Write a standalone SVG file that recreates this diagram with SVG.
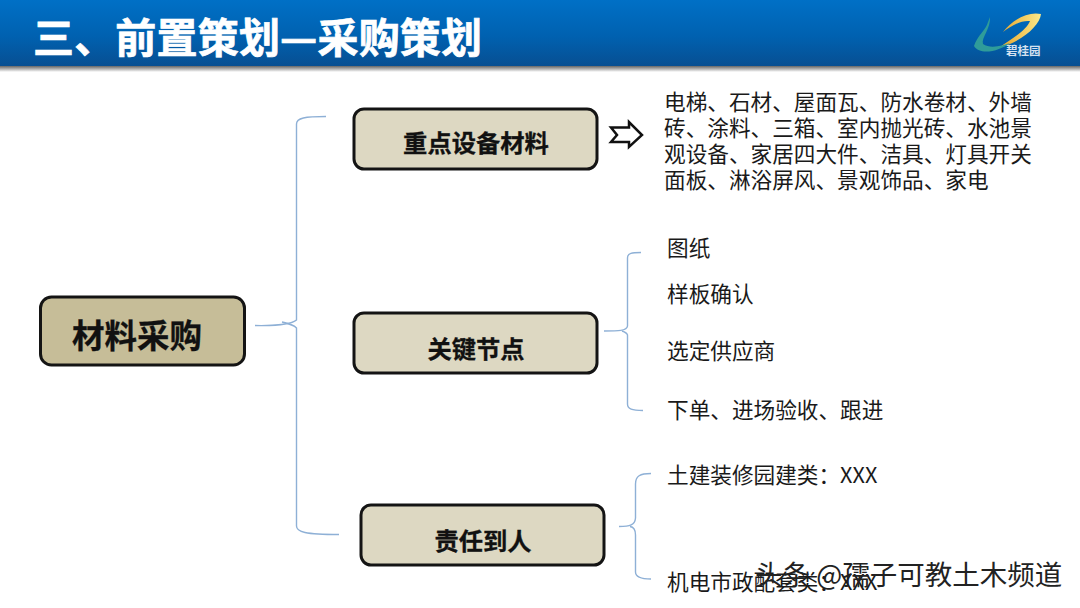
<svg xmlns="http://www.w3.org/2000/svg" width="1080" height="608" viewBox="0 0 1080 608">
<defs>
<linearGradient id="hdr" x1="0" y1="0" x2="0" y2="1"><stop offset="0" stop-color="#0070c6"/><stop offset="0.55" stop-color="#0061b0"/><stop offset="1" stop-color="#074f92"/></linearGradient>
<linearGradient id="shade" x1="0" y1="0" x2="0" y2="1"><stop offset="0" stop-color="#666"/><stop offset="1" stop-color="#fff"/></linearGradient>
<linearGradient id="gold" x1="0" y1="0" x2="1" y2="0"><stop offset="0" stop-color="#e8a52a"/><stop offset="1" stop-color="#fbe98a"/></linearGradient>
</defs>
<style>
text{font-family:"Noto Sans CJK SC","Liberation Sans",sans-serif}
.box{stroke:#141414;stroke-width:3}
.sub{fill:#ddd8c2}
.lbl{font-size:24.3px;font-weight:700;fill:#111;stroke:#111;stroke-width:.3;text-anchor:middle}
.t{font-size:21.650px;fill:#1a1a1a}
.br{fill:none;stroke:#8eb0d6;stroke-width:1.4}
</style>
<rect width="1080" height="608" fill="#fff"/>
<g id="header">
<rect width="1080" height="66" fill="url(#hdr)"/>
<rect y="66" width="1080" height="6" fill="url(#shade)"/>
<text x="33" y="53" font-size="41" font-weight="700" fill="#fff" stroke="#fff" stroke-width=".7" textLength="449" lengthAdjust="spacing">三、前置策划—采购策划</text>
</g>
<g id="logo">
<path d="M1003 32C1012 20 1028 11 1041 14C1040 25 1022 42 1000 47C1010 40 1026 31 1030 21C1020 20 1010 27 1003 32Z" fill="url(#gold)"/>
<path d="M974 46C977 36 986 30 988 22L990 17C991 28 981 38 983 44C990 49 1002 46 1010 43C1000 51 980 56 974 46Z" fill="#2f9c9a"/>
<text x="1006" y="55" font-size="11.500" font-weight="700" fill="#d6e2f0">碧桂园</text>
</g>
<g id="connectors">
<path class="br" d="M255 325.500C275 326 292 324 296.500 320V124C296.500 118 305 116.500 326 116.500"/>
<path class="br" d="M282 322C290 324 294 325 296.500 328V526C296.500 532 305 534.500 339 534.500"/>
<path class="br" d="M604 331C618 331 627 331 627.500 326V258C627.500 253 632 252.500 641 252.500"/>
<path class="br" d="M622 331C625 332 627 333 627.500 335V404C627.500 409 632 410.500 643 410.500"/>
<path class="br" d="M619 526.500C630 526.500 635 525 635.500 518V484C635.500 476 640 473.500 651 473.500"/>
<path class="br" d="M630 526.500C634 527 635.500 530 635.500 535V572C635.500 577 640 579 651 579"/>
</g>
<g id="root">
<rect class="box" x="40.500" y="297" width="204" height="68" rx="11" fill="#c6bd98"/>
<text class="lbl" x="137" y="348" style="font-size:32.500px">材料采购</text>
</g>
<g id="node-materials">
<rect class="box sub" x="354" y="109" width="243" height="60" rx="10"/>
<text class="lbl" x="476" y="152">重点设备材料</text>
</g>
<g id="node-milestones">
<rect class="box sub" x="354" y="313" width="243" height="60" rx="10"/>
<text class="lbl" x="476" y="358">关键节点</text>
</g>
<g id="node-owner">
<rect class="box sub" x="361" y="505" width="243" height="60" rx="10"/>
<text class="lbl" x="483" y="550">责任到人</text>
</g>
<g id="arrow">
<path d="M611 127.500H629V122L642 135L629 147V142H611L617 135Z" fill="#fff" stroke="#111" stroke-width="2.500"/>
</g>
<g id="materials-text">
<text class="t" x="664" y="110">电梯、石材、屋面瓦、防水卷材、外墙</text>
<text class="t" x="664" y="136">砖、涂料、三箱、室内抛光砖、水池景</text>
<text class="t" x="664" y="162">观设备、家居四大件、洁具、灯具开关</text>
<text class="t" x="664" y="188">面板、淋浴屏风、景观饰品、家电</text>
</g>
<g id="milestones-text">
<text class="t" x="667" y="256">图纸</text>
<text class="t" x="667" y="302">样板确认</text>
<text class="t" x="667" y="359">选定供应商</text>
<text class="t" x="667" y="418">下单、进场验收、跟进</text>
</g>
<g id="owner-text">
<text class="t" x="667" y="483">土建装修园建类：XXX</text>
<text class="t" x="667" y="590">机电市政配套类：XXX</text>
</g>
<g id="watermark">
<text x="755" y="585" font-size="27.500" fill="#222">头条 @孺子可教土木频道</text>
</g>
</svg>
